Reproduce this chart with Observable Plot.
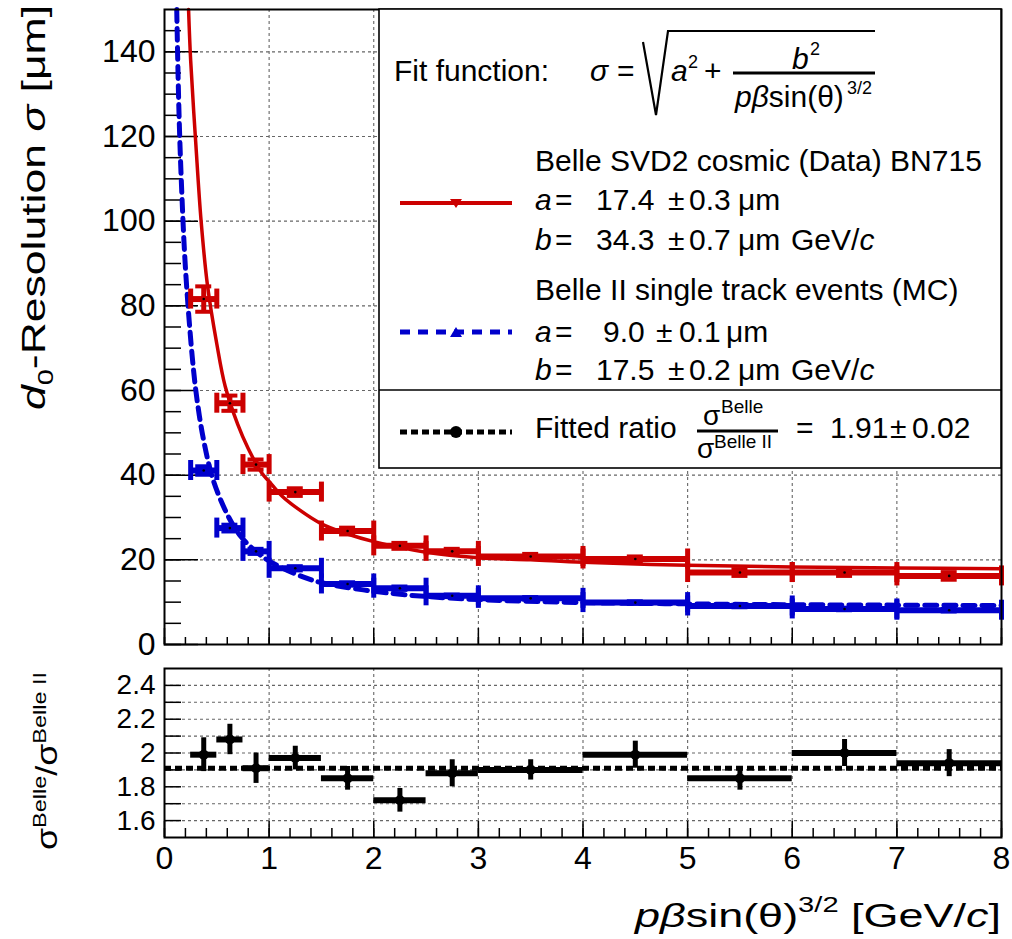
<!DOCTYPE html>
<html><head><meta charset="utf-8">
<script src="https://cdn.jsdelivr.net/npm/d3@7"></script>
<script src="https://cdn.jsdelivr.net/npm/@observablehq/plot@0.6"></script>
<style>
html,body{margin:0;padding:0;background:#fff}
#wrap{position:relative;width:1012px;height:939px;overflow:hidden;font-family:"Liberation Sans",Arial,sans-serif;background:#fff}
#top,#bot,#ov{position:absolute;left:0}
#top{top:0}#bot{top:660px}#ov{top:0}
</style></head><body>
<div id="wrap">
<div id="top"></div>
<div id="bot"></div>
<svg id="ov" width="1012" height="939" font-family="Liberation Sans, Arial, sans-serif" fill="black">
  <!-- y title (upper) -->
  <text transform="translate(45,5) rotate(-90)" text-anchor="end" font-size="34" textLength="405" lengthAdjust="spacingAndGlyphs"><tspan font-style="italic">d</tspan><tspan font-size="22" dy="8">0</tspan><tspan dy="-8">-Resolution </tspan><tspan font-style="italic">σ</tspan><tspan> [μm]</tspan></text>
  <!-- y title (lower) -->
  <text transform="translate(57,850) rotate(-90)" text-anchor="start" font-size="29" textLength="178" lengthAdjust="spacingAndGlyphs"><tspan>σ</tspan><tspan font-size="19" dy="-11">Belle</tspan><tspan dy="11">/σ</tspan><tspan font-size="19" dy="-11">Belle II</tspan></text>
  <!-- x title -->
  <text x="1001" y="927" text-anchor="end" font-size="34" textLength="366" lengthAdjust="spacingAndGlyphs"><tspan font-style="italic">pβ</tspan><tspan>sin(θ)</tspan><tspan font-size="22" dy="-15">3/2</tspan><tspan dy="15"> [GeV/</tspan><tspan font-style="italic">c</tspan><tspan>]</tspan></text>

  <!-- legend -->
  <rect x="379" y="9" width="622" height="459" fill="white" stroke="black" stroke-width="1.6"/>
  <line x1="379" x2="1001" y1="390" y2="390" stroke="black" stroke-width="1.6"/>
  <text x="394" y="81" font-size="30">Fit function:</text>
  <text x="590" y="81" font-size="30" font-style="italic">σ</text>
  <text x="617" y="81" font-size="30">=</text>
  <path d="M643,42 L656,115 L668,31 L875,31" fill="none" stroke="black" stroke-width="2.2"/>
  <text x="671" y="81" font-size="30" font-style="italic">a</text>
  <text x="688" y="68" font-size="18">2</text>
  <text x="704" y="81" font-size="30">+</text>
  <line x1="733" x2="875" y1="73" y2="73" stroke="black" stroke-width="3"/>
  <text x="792" y="69" font-size="30" font-style="italic">b</text>
  <text x="810" y="55" font-size="18">2</text>
  <text x="735" y="107" font-size="30"><tspan font-style="italic">pβ</tspan><tspan>sin(θ)</tspan></text>
  <text x="847" y="94" font-size="18">3/2</text>

  <line x1="400" x2="512" y1="203" y2="203" stroke="#cc0000" stroke-width="4"/>
  <path d="M450,199 L462,199 L456,208 Z" fill="#cc0000"/>
  <text y="171" font-size="30"><tspan x="535">Belle SVD2 cosmic (Data) BN715</tspan></text>
  <text y="210" font-size="30"><tspan x="535" font-style="italic">a</tspan><tspan x="555">=</tspan><tspan x="596">17.4</tspan><tspan x="668">±</tspan><tspan x="689">0.3</tspan><tspan x="738">μm</tspan></text>
  <text y="250" font-size="30"><tspan x="535" font-style="italic">b</tspan><tspan x="555">=</tspan><tspan x="596">34.3</tspan><tspan x="668">±</tspan><tspan x="689">0.7</tspan><tspan x="738">μm</tspan><tspan x="791">GeV/</tspan><tspan font-style="italic">c</tspan></text>

  <line x1="400" x2="512" y1="332" y2="332" stroke="#0000cc" stroke-width="5" stroke-dasharray="10,8"/>
  <path d="M450,337 L462,337 L456,327 Z" fill="#0000cc"/>
  <text y="300" font-size="30"><tspan x="535">Belle II single track events (MC)</tspan></text>
  <text y="342" font-size="30"><tspan x="535" font-style="italic">a</tspan><tspan x="555">=</tspan><tspan x="603">9.0</tspan><tspan x="656">±</tspan><tspan x="679">0.1</tspan><tspan x="726">μm</tspan></text>
  <text y="380" font-size="30"><tspan x="535" font-style="italic">b</tspan><tspan x="555">=</tspan><tspan x="596">17.5</tspan><tspan x="668">±</tspan><tspan x="689">0.2</tspan><tspan x="738">μm</tspan><tspan x="791">GeV/</tspan><tspan font-style="italic">c</tspan></text>

  <line x1="400" x2="512" y1="432" y2="432" stroke="black" stroke-width="5" stroke-dasharray="7,4"/>
  <circle cx="456" cy="432" r="6" fill="black"/>
  <text x="535" y="438" font-size="30">Fitted ratio</text>
  <line x1="697" x2="778" y1="431" y2="431" stroke="black" stroke-width="3"/>
  <text x="703" y="425" font-size="28">σ</text>
  <text x="721" y="413" font-size="19">Belle</text>
  <text x="697" y="458" font-size="28">σ</text>
  <text x="714" y="448" font-size="19">Belle II</text>
  <text y="438" font-size="30"><tspan x="796">=</tspan><tspan x="830">1.91</tspan><tspan x="890">±</tspan><tspan x="912">0.02</tspan></text>
</svg>
</div>
<script>
// ---------------- data ----------------
const binLo = [0.25, 0.5, 0.75, 1.0, 1.5, 2.0, 2.5, 3.0, 4.0, 5.0, 6.0, 7.0];
const binHi = [0.5, 0.75, 1.0, 1.5, 2.0, 2.5, 3.0, 4.0, 5.0, 6.0, 7.0, 8.0];
const belleSigma = [81.6, 57.0, 42.5, 36.0, 26.8, 23.3, 22.0, 20.8, 20.2, 17.0, 17.0, 16.2];
const belleErr   = [3.0, 1.8, 1.2, 0.9, 0.8, 0.7, 0.6, 0.6, 0.6, 0.8, 0.8, 0.9];
const belle2Sigma = [41.1, 27.5, 22.0, 18.0, 14.3, 13.3, 11.5, 10.9, 9.9, 9.1, 8.4, 8.1];
const belle2Err   = [1.0, 0.8, 0.6, 0.5, 0.4, 0.4, 0.3, 0.3, 0.3, 0.3, 0.3, 0.3];
const ratio    = [1.99, 2.08, 1.91, 1.97, 1.85, 1.72, 1.88, 1.90, 1.99, 1.85, 2.00, 1.94];
const ratioErr = [0.10, 0.09, 0.09, 0.07, 0.07, 0.07, 0.08, 0.06, 0.08, 0.07, 0.08, 0.08];
const fittedRatio = 1.91;

const belleFitX = [0.23, 0.25, 0.3, 0.35, 0.41, 0.5, 0.58, 0.7, 0.8, 0.93, 1.0, 1.125, 1.25, 1.5, 1.75, 2.0, 2.5, 3.0, 3.5, 4.0, 5.0, 6.0, 7.0, 8.0];
const belleFitY = [150, 138, 118, 100, 85, 71, 61, 52, 46.3, 40.5, 38.5, 35, 32.5, 28.5, 26.1, 24.3, 21.8, 20.5, 20.0, 19.4, 18.7, 18.3, 18.1, 17.9];
const belle2FitX = [0.117, 0.137, 0.16, 0.2, 0.265, 0.31, 0.376, 0.47, 0.615, 0.73, 0.85, 1.0, 1.33, 1.5, 1.9, 2.32, 3.0, 4.0, 5.0, 6.0, 7.0, 8.0];
const belle2FitY = [150, 127, 110, 89, 68, 58, 48, 38.5, 30, 25.5, 22.5, 19.7, 15.9, 14.6, 12.9, 11.7, 10.6, 9.9, 9.6, 9.4, 9.3, 9.2];

const xTicks = [0, 1, 2, 3, 4, 5, 6, 7, 8];
const topYTicks = [0, 20, 40, 60, 80, 100, 120, 140];
const botYTicks = [1.6, 1.8, 2.0, 2.2, 2.4];
const botYTickLabels = ["1.6", "1.8", "2", "2.2", "2.4"];

// ---------------- layout ----------------
const FONT = "Liberation Sans, Arial, sans-serif";
const RED = "#cc0000", BLUE = "#0000cc";
const GRID = {stroke: "#666", strokeWidth: 1.1, strokeDasharray: "3,3"};
const xDom = [0, 8], topDom = [0, 150], botDom = [1.5, 2.5];
const fL = 164, fR = 1001;
const kx = (xDom[1] - xDom[0]) / (fR - fL);          // data per px (x)
const kyT = (topDom[1] - topDom[0]) / (644 - 9);     // data per px (top y)
const kyB = (botDom[1] - botDom[0]) / (837 - 668);   // data per px (bottom y)

const xMinor = d3.range(0, 8.001, 0.2).map(v => +v.toFixed(2));
const topYMinor = d3.range(0, 150, 5);
const botYMinor = d3.range(1.6, 2.45, 0.1).map(v => +v.toFixed(2));

const rows = (ys, es) => binLo.map((lo, i) => ({lo, hi: binHi[i], c: (lo + binHi[i]) / 2, y: ys[i], e: es[i]}));
const belleRows = rows(belleSigma, belleErr);
const belle2Rows = rows(belle2Sigma, belle2Err);
const ratioRows = rows(ratio, ratioErr);
const belleFit = belleFitX.map((x, i) => ({x, y: belleFitY[i]}));
const belle2Fit = belle2FitX.map((x, i) => ({x, y: belle2FitY[i]}));

function errMarks(data, color) {
  const capH = 10 * kyT, capW = 8 * kx;
  return [
    Plot.ruleY(data, {y: "y", x1: "lo", x2: "hi", stroke: color, strokeWidth: 6}),
    Plot.ruleX(data, {x: "lo", y1: d => d.y - capH, y2: d => d.y + capH, stroke: color, strokeWidth: 5}),
    Plot.ruleX(data, {x: "hi", y1: d => d.y - capH, y2: d => d.y + capH, stroke: color, strokeWidth: 5}),
    Plot.ruleX(data, {x: "c", y1: d => d.y - d.e, y2: d => d.y + d.e, stroke: color, strokeWidth: 5}),
    Plot.ruleY(data, {y: d => d.y + d.e, x1: d => d.c - capW, x2: d => d.c + capW, stroke: color, strokeWidth: 4}),
    Plot.ruleY(data, {y: d => d.y - d.e, x1: d => d.c - capW, x2: d => d.c + capW, stroke: color, strokeWidth: 4}),
    Plot.dot(data, {x: "c", y: "y", r: 1.3, fill: "black"})
  ];
}

const topPlot = Plot.plot({
  width: 1012, height: 650,
  marginLeft: fL, marginRight: 1012 - fR, marginTop: 9, marginBottom: 6,
  x: {domain: xDom, axis: null},
  y: {domain: topDom, axis: null},
  style: {fontFamily: FONT, background: "transparent", overflow: "visible", color: "black"},
  marks: [
    Plot.ruleX(xTicks.filter(v => v > 0 && v < 8), {x: d => d, ...GRID}),
    Plot.ruleY(topYTicks.filter(v => v > 0), {y: d => d, ...GRID}),
    Plot.ruleY(topYMinor, {y: d => d, x1: () => 0, x2: () => 17 * kx, stroke: "black", strokeWidth: 1.5}),
    Plot.ruleY(topYTicks, {y: d => d, x1: () => 0, x2: () => 34 * kx, stroke: "black", strokeWidth: 1.5}),
    Plot.ruleX(xMinor, {x: d => d, y1: () => 0, y2: () => 7 * kyT, stroke: "black", strokeWidth: 1.5}),
    Plot.ruleX(xTicks, {x: d => d, y1: () => 0, y2: () => 16 * kyT, stroke: "black", strokeWidth: 1.5}),
    Plot.line(belle2Fit, {x: "x", y: "y", stroke: BLUE, strokeWidth: 5, strokeDasharray: "12,7", curve: "catmull-rom"}),
    Plot.line(belleFit, {x: "x", y: "y", stroke: RED, strokeWidth: 3.5, curve: "catmull-rom"}),
    ...errMarks(belle2Rows, BLUE),
    ...errMarks(belleRows, RED),
    Plot.text(topYTicks, {y: d => d, text: d => String(d), frameAnchor: "left", dx: -9, textAnchor: "end", lineAnchor: "middle", fontSize: 32, fill: "black"}),
    Plot.frame({stroke: "black", strokeWidth: 2})
  ]
});
document.getElementById("top").appendChild(topPlot);

const botPlot = Plot.plot({
  width: 1012, height: 280,
  marginLeft: fL, marginRight: 1012 - fR, marginTop: 8, marginBottom: 103,
  x: {domain: xDom, axis: null},
  y: {domain: botDom, axis: null},
  style: {fontFamily: FONT, background: "transparent", overflow: "visible", color: "black"},
  marks: [
    Plot.ruleX(xTicks.filter(v => v > 0 && v < 8), {x: d => d, ...GRID}),
    Plot.ruleY(botYMinor, {y: d => d, ...GRID}),
    Plot.ruleY(botYMinor, {y: d => d, x1: () => 0, x2: () => 17 * kx, stroke: "black", strokeWidth: 1.5}),
    Plot.ruleX(xMinor, {x: d => d, y1: () => botDom[0], y2: () => botDom[0] + 9 * kyB, stroke: "black", strokeWidth: 1.5}),
    Plot.ruleX(xTicks, {x: d => d, y1: () => botDom[0], y2: () => botDom[0] + 16 * kyB, stroke: "black", strokeWidth: 1.5}),
    Plot.ruleY([fittedRatio], {y: d => d, stroke: "black", strokeWidth: 5, strokeDasharray: "7,4"}),
    Plot.ruleY(ratioRows, {y: "y", x1: "lo", x2: "hi", stroke: "black", strokeWidth: 6}),
    Plot.ruleX(ratioRows, {x: "c", y1: d => d.y - d.e, y2: d => d.y + d.e, stroke: "black", strokeWidth: 5}),
    Plot.dot(ratioRows, {x: "c", y: "y", r: 5, fill: "black"}),
    Plot.text(botYTicks, {y: d => d, text: (d, i) => botYTickLabels[i], frameAnchor: "left", dx: -9, textAnchor: "end", lineAnchor: "middle", fontSize: 28, fill: "black"}),
    Plot.text(xTicks, {x: d => d, text: d => String(d), frameAnchor: "bottom", dy: 21, textAnchor: "middle", lineAnchor: "middle", fontSize: 32, fill: "black"}),
    Plot.frame({stroke: "black", strokeWidth: 2})
  ]
});
document.getElementById("bot").appendChild(botPlot);
</script>
</body></html>
